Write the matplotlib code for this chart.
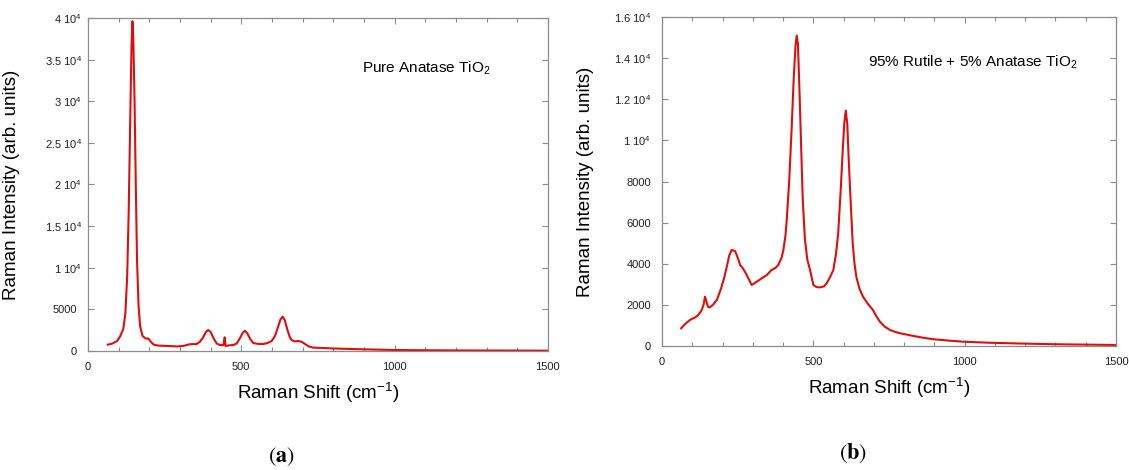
import matplotlib
matplotlib.use("Agg")
import matplotlib.pyplot as plt
from matplotlib.ticker import MultipleLocator, FixedLocator, FixedFormatter

plt.rcParams['font.family'] = ['Liberation Sans', 'DejaVu Sans']
plt.rcParams['mathtext.fontset'] = 'custom'
plt.rcParams['mathtext.rm'] = 'Liberation Sans'
plt.rcParams['mathtext.it'] = 'Liberation Sans:italic'
plt.rcParams['mathtext.bf'] = 'Liberation Sans:bold'

# (a) pure anatase spectrum
shift_a = [65, 80, 95, 104, 115, 122, 128, 133, 138, 142, 145, 148, 152, 156, 160,
           165, 170, 178, 188, 197, 205, 215, 230, 260, 290, 310, 333, 354, 365,
           375, 385, 392, 400, 410, 420, 430, 442, 446, 449, 460, 474, 485, 495,
           505, 512, 520, 530, 539, 555, 572, 585, 599, 610, 620, 628, 635, 642,
           650, 658, 664, 675, 686, 697, 708, 720, 734, 756, 800, 850, 900, 1000,
           1100, 1200, 1300, 1400, 1500]
inten_a = [760, 900, 1200, 1700, 2600, 4500, 9000, 17000, 28000, 36500, 39600, 37500,
           30000, 20000, 11000, 5500, 3000, 1800, 1500, 1500, 1100, 750, 650, 600,
           550, 600, 820, 830, 1100, 1600, 2300, 2520, 2300, 1500, 900, 720, 700,
           1640, 600, 680, 720, 900, 1500, 2200, 2440, 2100, 1400, 960, 850, 840,
           950, 1200, 1800, 2900, 3800, 4120, 3700, 2600, 1700, 1320, 1150, 1200,
           1100, 840, 550, 400, 380, 300, 250, 200, 120, 90, 70, 60, 50, 40]

# (b) 95% rutile + 5% anatase spectrum
shift_b = [63, 75, 92, 110, 120, 131, 137, 142, 147, 152, 158, 168, 181, 195, 205,
           214, 222, 230, 241, 250, 258, 266, 274, 285, 296, 305, 313, 330, 346,
           362, 375, 384, 395, 401, 408, 412, 420, 428, 435, 441, 445, 449, 455,
           460, 465, 472, 480, 489, 500, 510, 522, 535, 544, 555, 566, 575, 582,
           590, 597, 602, 607, 612, 617, 623, 630, 636, 642, 652, 664, 680, 697,
           708, 719, 735, 753, 770, 786, 810, 830, 860, 896, 950, 995, 1080, 1160,
           1250, 1325, 1420, 1497]
inten_b = [860, 1050, 1265, 1400, 1510, 1750, 2000, 2400, 2150, 1900, 1880, 2000,
           2240, 2800, 3300, 3860, 4400, 4670, 4620, 4300, 3940, 3800, 3610, 3300,
           2970, 3050, 3130, 3300, 3450, 3700, 3800, 3940, 4300, 4670, 5400, 6130,
           8000, 10500, 13000, 14600, 15100, 14700, 12000, 9500, 7100, 5200, 4200,
           3700, 2970, 2870, 2850, 2900, 3050, 3350, 3700, 4500, 5490, 7500, 9500,
           10800, 11450, 10800, 9000, 7100, 5000, 4000, 3370, 2800, 2400, 2050,
           1750, 1450, 1200, 950, 780, 690, 620, 550, 490, 410, 330, 260, 210, 160,
           130, 100, 80, 65, 50]

yticks_a = [0, 5000, 10000, 15000, 20000, 25000, 30000, 35000, 40000]
ylabels_a = ['0', '5000', r'1 10$^4$', r'1.5 10$^4$', r'2 10$^4$', r'2.5 10$^4$',
             r'3 10$^4$', r'3.5 10$^4$', r'4 10$^4$']
yticks_b = [0, 2000, 4000, 6000, 8000, 10000, 12000, 14000, 16000]
ylabels_b = ['0', '2000', '4000', '6000', '8000', r'1 10$^4$', r'1.2 10$^4$',
             r'1.4 10$^4$', r'1.6 10$^4$']

red = '#e00d0d'
grey = '#8c8c8c'

fig = plt.figure(figsize=(11.29, 4.70), dpi=100)
ax_a = fig.add_axes([0.0779, 0.2532, 0.4074, 0.7085])
ax_b = fig.add_axes([0.5864, 0.2638, 0.4021, 0.7000])


def style(ax, yticks, ylabels, ymax):
    ax.set_xlim(0, 1500)
    ax.set_ylim(0, ymax)
    ax.xaxis.set_major_locator(MultipleLocator(500))
    ax.xaxis.set_minor_locator(MultipleLocator(100))
    ax.yaxis.set_major_locator(FixedLocator(yticks))
    ax.yaxis.set_major_formatter(FixedFormatter(ylabels))
    ax.tick_params(which='both', direction='in', top=True, right=True,
                   color=grey, width=0.8, labelsize=8, labelcolor='#222222')
    ax.tick_params(which='major', length=4)
    ax.tick_params(which='minor', length=3)
    ax.tick_params(axis='y', pad=8)
    ax.tick_params(axis='x', pad=8)
    for s in ax.spines.values():
        s.set_color(grey)
        s.set_linewidth(0.9)
    ax.set_xlabel(r'Raman Shift (cm$^{-1}$)', fontsize=13.5, labelpad=6)
    ax.set_ylabel('Raman Intensity (arb. units)', fontsize=13.5)


ax_a.plot(shift_a, inten_a, color=red, lw=1.5)
style(ax_a, yticks_a, ylabels_a, 40000)
ax_a.yaxis.set_label_coords(-0.148, 0.5)
# the "10^4" labels in panel (a) sit closer to the axis
for t in ax_a.yaxis.get_major_ticks()[2:]:
    t.set_pad(4.5)
ax_a.text(0.596, 0.85, r'Pure Anatase TiO$_2$', transform=ax_a.transAxes,
          fontsize=11, va='center')

ax_b.plot(shift_b, inten_b, color=red, lw=1.5)
style(ax_b, yticks_b, ylabels_b, 16000)
ax_b.yaxis.set_label_coords(-0.150, 0.5)
ax_b.text(0.454, 0.863, r'95% Rutile + 5% Anatase TiO$_2$', transform=ax_b.transAxes,
          fontsize=11, va='center')

fig.text(281 / 1129, 1 - 457 / 470, r'$(\mathbf{a})$', math_fontfamily='stix',
         fontsize=16, ha='center', va='center')
fig.text(853 / 1129, 1 - 453 / 470, r'$(\mathbf{b})$', math_fontfamily='stix',
         fontsize=16, ha='center', va='center')

fig.savefig('out.png', dpi=100)
